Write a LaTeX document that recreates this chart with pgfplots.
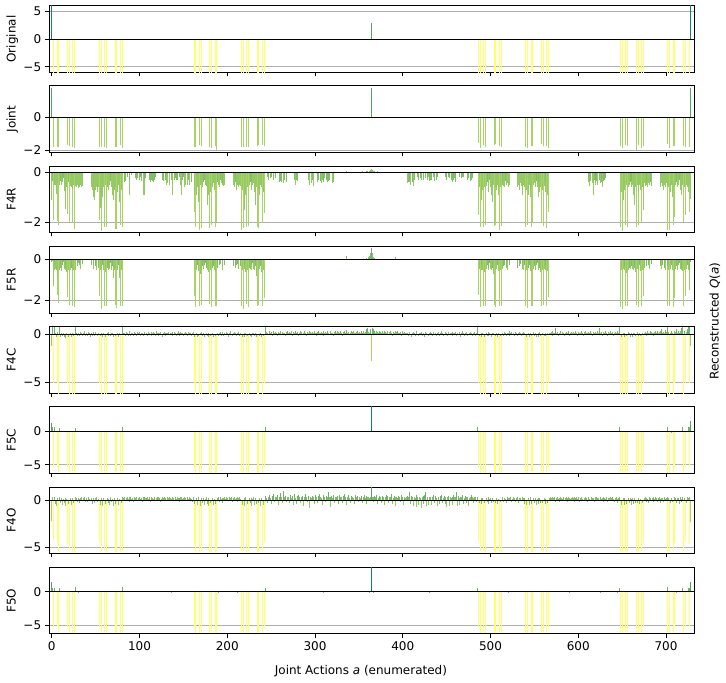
\documentclass[border=0pt]{standalone}
\usepackage{fontspec}
\setmainfont{DejaVu Sans}
\usepackage{pgfplots}
\usepackage{pgfplotstable}
\pgfplotsset{compat=1.18}
\definecolor{gridgray}{RGB}{176,176,176}
\definecolor{cY}{rgb}{1,1,0.4}
\definecolor{cA}{rgb}{0.66,0.83,0.4}
\definecolor{cB}{rgb}{0.58,0.79,0.4}
\definecolor{cC}{rgb}{0.5,0.75,0.4}
\definecolor{cD}{rgb}{0.42,0.71,0.4}
\definecolor{cE}{rgb}{0.3,0.65,0.4}
\definecolor{cT}{rgb}{0.05,0.52,0.4}
\pgfplotsset{
  panel/.style={
    scale only axis, width=537.75pt, height=55.5pt,
    xmin=-3.1, xmax=732.2,
    xtick={0,100,...,700},
    tick align=outside, tick pos=left,
    major tick length=3pt,
    tick style={black, line width=0.7pt},
    axis line style={black, line width=0.8pt},
    ymajorgrids, major grid style={gridgray, line width=0.7pt},
    /pgf/number format/assume math mode=true,
    every axis y label/.style={at={(axis description cs:-0.0566,0.5)}, rotate=90, anchor=center, text height=0.76em, text depth=0.24em},
  },
  qbar/.style={no markers, ycomb, line width=0.6pt},
}
\newcommand{\densebin}[3]{%
  \pgfplotsinvokeforeach{0,...,26}{%
    \addplot[qbar, color=#2, restrict y to domain=#3] table[x expr=\coordindex*27+##1, y index=##1] {#1};
  }}
\newcommand{\sparsebin}[3]{%
  \addplot[qbar, color=#2, restrict y to domain=#3] table[x=x, y=#1] {\tabSP};}
\newcommand{\sparsebars}[1]{%
  \sparsebin{#1}{cY}{-7:-4.05}
  \sparsebin{#1}{cA}{-4.05:-1.55}
  \sparsebin{#1}{cB}{-1.55:-0.42}
  \sparsebin{#1}{cC}{-0.42:0.42}
  \sparsebin{#1}{cD}{0.42:1.22}
  \sparsebin{#1}{cE}{1.22:3.95}
  \sparsebin{#1}{cT}{3.95:7}}
\newcommand{\zeroline}{\addplot[black, line width=0.8pt, no markers] coordinates {(-10,0) (740,0)};}

\pgfplotstableread{
x orig joint fc fo
0 6.5 1.73 1.25 1.5
1 0 0 0.6 0.6
2 -6.5 -1.81 -5.3 -5.3
3 0 0 0.6 0.6
6 -6.5 -1.81 -5.3 -5.3
8 -6.5 -1.81 -6.2 -6.2
9 0 0 0.45 0.6
18 -6.5 -1.69 -5.3 -5.3
20 -6.5 -1.75 -6.2 -6.2
24 -6.5 -1.81 -6.2 -6.2
26 -6.5 -1.88 -6.1 -6.2
27 0 0 0.5 0.75
30 0 0 0 -0.06
54 -6.5 -1.81 -5.3 -5.3
56 -6.5 -1.81 -6.2 -6.2
60 -6.5 -1.81 -6.2 -6.1
62 -6.5 -1.88 -6.2 -6.2
72 -6.5 -1.81 -6.2 -6.2
74 -6.5 -1.81 -6.1 -6.2
78 -6.5 -1.69 -6.2 -6.2
80 -6.5 -1.88 -6.2 -6.1
81 0 0 0.6 0.75
92 0 0 0 0.06
134 0 0 -0.15 0
136 0 0 0 -0.06
162 -6.5 -1.81 -5.3 -5.3
164 -6.5 -1.81 -6.2 -6.2
166 0 0 0 0.06
168 -6.5 -1.69 -6.2 -6.2
170 -6.5 -1.75 -6.1 -6.2
180 -6.5 -1.81 -6.2 -6.2
182 -6.5 -1.88 -6.2 -6.1
186 -6.5 -1.75 -6.2 -6.2
188 -6.5 -1.98 -6.2 -6.2
190 0 0 0 -0.06
212 0 0 0 -0.05
216 -6.5 -1.81 -6.2 -6.2
218 -6.5 -1.81 -6.2 -6.2
222 -6.5 -1.81 -6.1 -6.2
224 -6.5 -1.81 -6.2 -6.2
234 -6.5 -1.75 -6.2 -6.2
236 -6.5 -1.69 -6.2 -6.1
240 -6.5 -1.69 -6.2 -6.2
242 -6.5 -1.75 -5.3 -5.3
243 0 0 0.6 0.6
262 0 0 0 0.05
310 0 0 0 -0.06
330 0 0 0 0.05
362 0 0 0 -0.1
363 0 0 0 0.1
364 3 1.73 6 6
365 0 0 0 0.1
366 0 0 0 -0.1
395 0 0 0 0.05
403 0 0 -0.1 0.05
430 0 0 0 -0.06
470 0 0 0 0.05
481 0 0 -0.12 0
485 0 0 0.65 0.6
486 -6.5 -1.59 -5.3 -5.3
488 -6.5 -1.88 -6.2 -6.2
492 -6.5 -1.69 -6.2 -6.2
494 -6.5 -1.81 -6.2 -6.2
504 -6.5 -1.69 -6.1 -6.2
506 -6.5 -1.65 -6.2 -6.2
510 -6.5 -1.75 -6.2 -6.1
512 -6.5 -1.81 -6.2 -6.2
520 0 0 0 -0.05
540 -6.5 -1.81 -6.2 -6.2
542 -6.5 -1.88 -6.2 -6.2
546 -6.5 -1.75 -6.2 -6.2
548 -6.5 -1.75 -6.1 -6.2
558 -6.5 -1.65 -6.2 -6.2
560 -6.5 -1.75 -6.2 -6.1
564 -6.5 -1.75 -6.2 -6.2
566 -6.5 -1.88 -5.3 -5.3
590 0 0 0 -0.06
608 0 0 0 0.05
625 0 0 0 -0.06
645 0 0 -0.15 -0.08
647 0 0 0.65 0.6
648 -6.5 -1.75 -6.2 -6.2
650 -6.5 -1.88 -6.2 -6.2
654 -6.5 -1.69 -6.2 -6.1
656 -6.5 -1.75 -6.2 -6.2
666 -6.5 -1.98 -6.2 -6.2
668 -6.5 -1.69 -6.1 -6.2
672 -6.5 -1.88 -6.2 -6.2
674 -6.5 -1.75 -5.3 -5.3
690 0 0 0 0.06
701 0 0 0.65 0.75
702 -6.5 -1.65 -6.2 -6.2
704 -6.5 -1.88 -6.2 -6.2
706 0 0 -0.2 0
707 0 0 -0.1 0
708 -6.5 -1.75 -6.2 -6.2
710 -6.5 -1.75 -5.3 -5.3
712 0 0 0 -0.06
716 0 0 0 0.06
719 0 0 0.65 0.6
720 -6.5 -1.75 -6.2 -6.2
722 -6.5 -1.81 -5.3 -5.3
725 0 0 0.6 0.6
726 -6.5 -1.81 -5.3 -5.3
727 0 0 0.6 0.6
728 6.5 1.73 1.55 1.5
}\tabSP

\pgfplotstableread[header=false]{
-1.1 -0.36 -1.9 -0.5 -0.5 -0.87 -1.95 -0.45 -2.1 -0.5 -0.35 -0.5 -0.4 -0.25 -0.75 -1.1 -1.47 -0.6 -1.67 -0.4 -2.0 -0.55 -0.6 -0.7 -2.04 -0.5 -2.27
-0.55 -0.6 -0.5 -0.65 -0.55 -0.6 -0.5 -0.6 -0.55 0 0 0 0 0 0 0 0 0 -0.6 -0.7 -1.0 -0.6 -1.1 -0.7 -0.6 -0.8 -0.6
-1.9 -1.45 -2.36 -1.27 -1.0 -0.6 -2.2 -0.5 -2.2 -0.6 -0.45 -0.7 -0.5 -0.35 -0.6 -0.9 -1.1 -0.7 -2.27 -0.6 -2.27 -0.8 -0.5 -1.2 -2.13 -0.7 -2.2
0 0 -0.4 -0.35 0 -0.2 0 -0.9 -0.3 0 -0.1 0 0 0 -0.25 -0.2 -0.3 -0.25 0 -0.3 -0.2 -0.35 0 -0.9 -0.3 -0.9 -0.25
0 0 0 -0.3 -0.4 -0.3 0 -0.35 -0.4 -0.3 -0.2 0 0 0 0 0 0 0 -0.3 -0.35 0 -0.3 0 -0.5 -0.45 0 -0.5
0 -0.3 -0.8 -0.9 0 -0.3 -0.25 -0.3 -0.3 0 0 -0.2 -0.5 -0.9 -0.3 -0.2 -0.6 -0.5 0 -0.45 -0.5 -0.3 -0.5 0 -0.4 0 0
-1.6 -0.8 -2.2 -0.9 -0.6 -1.2 -2.3 -0.5 -2.25 -0.45 -0.6 -0.4 -0.3 -0.5 -0.55 -1.3 -0.7 -0.9 -2.25 -0.8 -2.1 -0.6 -0.45 -0.7 -2.2 -0.5 -2.0
-0.4 -0.5 -0.6 -0.3 -0.45 -0.5 -0.4 -0.55 -0.5 0 0 0 0 0 0 0 0 0 -0.5 -0.6 -0.4 -0.7 -0.5 -0.45 -0.6 -0.5 -0.55
-2.3 -0.7 -2.25 -1.5 -0.6 -0.9 -2.2 -0.6 -2.15 -0.5 -0.4 -0.35 -0.7 -0.5 -0.45 -0.8 -1.3 -0.6 -2.2 -0.7 -2.25 -0.9 -0.5 -0.6 -2.05 -0.8 -1.65
0 0 0 -0.2 -0.3 0 -0.25 -0.2 0 -0.3 -0.2 0 -0.25 0 0 0 -0.4 -0.35 0 -0.4 0 -0.45 -0.3 0 -0.4 0 0
0 0 0 0 0 0 -0.3 0 -0.5 -0.3 -0.35 0 0 0 0 0 0 0 0 0 0 0 0 -0.3 -0.5 0 -0.45
-0.3 -0.55 0 0 0 0 -0.4 -0.3 0 -0.35 -0.45 -0.3 0 -0.4 -0.25 0 -0.3 -0.4 -0.35 -0.3 0 0 0 -0.45 -0.4 0 0
0 0 0 0 0 0 0 0 0 0 0 0 0.05 0 0 0 0 0 0 0 0 0 0 0 0 0 0
0 0 0 0.03 0 0 0 0.05 0 0.05 0 0.05 0.08 0.13 0.08 0.05 0 0.05 0 0 0.03 0 0 0 0 0 0
0 0 0 0 0 0 0 0 0 0 0 0 0 0 0 0 0 0 0 0 0 0 0 0 0 0 0
-0.45 -0.4 0 -0.4 -0.5 0 -0.4 -0.55 -0.3 0 0 0 -0.2 -0.3 0 -0.25 -0.3 0 -0.2 -0.3 0 -0.25 0 -0.3 -0.2 -0.35 -0.3
-0.25 -0.3 0 -0.2 -0.35 0 -0.3 -0.2 0 0 0 0 0 0 0 0 0 -0.2 -0.3 0 -0.2 -0.25 0 -0.3 -0.25 -0.4 -0.3
-0.25 -0.4 0 0 0 -0.2 -0.15 0 -0.25 -0.2 -0.2 0 0 0 0 -0.3 -0.25 0 -0.35 -0.3 -0.25 0 0 0 0 0 0
-1.7 -0.6 -2.2 -1.1 -0.5 -0.7 -2.2 -0.6 -2.1 -0.55 -0.4 -0.8 -0.5 -0.3 -0.6 -0.9 -1.2 -0.5 -2.15 -0.6 -2.1 -0.7 -0.5 -0.9 -2.3 -0.6 -2.15
-0.5 -0.4 -0.55 -0.6 -0.35 -0.5 -0.45 -0.6 -0.5 0 0 0 0 0 0 0 0 0 -0.6 -0.5 -0.7 -0.45 -0.55 -0.9 -0.5 -0.6 -0.5
-2.2 -0.7 -2.1 -0.9 -0.5 -1.0 -2.2 -0.6 -2.0 -0.5 -0.45 -0.6 -0.35 -0.6 -0.4 -1.0 -0.8 -0.6 -2.05 -0.7 -2.15 -0.55 -0.4 -0.8 -2.25 -0.9 -1.6
0 0 0 0 0 0 0 0 0 0 0 0 0 0 0 0 0 0 0 0 0 0 0 0 0 0 0
0 0 0 0 0 0 0 0 0 0 0 0 0 0 0 0 0 -0.4 -0.3 -0.55 -0.35 0 -0.45 -0.9 -0.3 -0.5 -0.4
-0.35 -0.5 0 -0.3 -0.45 -0.4 -0.6 0 -0.35 -0.3 -0.25 0 0 0 0 0 0 0 0 0 0 0 0 0 0 0 0
-2.2 -0.8 -2.35 -1.1 -0.6 -0.7 -2.1 -0.5 -2.2 -0.6 -0.5 -0.4 -0.6 -0.35 -0.5 -0.9 -1.3 -0.6 -2.2 -0.5 -2.1 -0.8 -0.5 -0.7 -2.0 -0.6 -1.5
-0.45 -0.55 -0.4 -0.5 -0.6 -0.45 -0.5 -0.4 -0.55 0 0 0 0 0 0 0 0 0 -0.5 -0.6 -0.45 -0.55 -0.7 -0.5 -0.6 -0.45 -0.5
-2.3 -0.6 -2.3 -0.8 -0.5 -1.0 -2.1 -0.6 -1.8 -0.5 -0.4 -0.6 -0.5 -0.3 -0.7 -0.9 -0.6 -0.5 -2.0 -0.6 -1.7 -0.5 -0.6 -0.8 -1.6 -0.5 -1.07
}\tabFR

\pgfplotstableread[header=false]{
-0.15 -0.1 -1.33 -0.5 -0.45 -0.5 -1.74 -0.9 -2.15 -0.5 -0.4 -0.55 -0.3 -0.15 -0.45 -0.5 -0.4 -0.6 -1.85 -0.5 -2.23 -0.5 -0.4 -0.55 -2.3 -0.5 -2.36
-0.5 0 -0.35 -0.2 0 -0.3 -0.45 0 -0.25 0 0 0 0 0 0 0 0 0 -0.3 0 -0.45 -0.2 0 -0.35 -0.5 0 -0.4
-1.82 -0.5 -2.44 -0.45 -0.3 -0.5 -2.28 -0.6 -2.28 -0.4 -0.5 -0.3 -0.45 -0.2 -0.5 -0.35 -0.9 -0.5 -2.26 -0.45 -2.4 -0.5 -0.3 -0.9 -2.28 -0.5 -2.3
0 0 0 0 0 0 0 0 0 0 0 0 0 0 0 0 0 0 0 0 0 0 0 0 0 0 0
0 0 0 0 0 0 0 0 0 0 0 0 0 0 0 0 0 0 0 0 0 0 0 0 0 0 0
0 0 0 0 0 0 0 0 0 0 0 0 0 0 0 0 0 0 0 0 0 0 0 0 0 0 0
-1.8 -0.45 -2.35 -0.5 -0.3 -0.55 -2.3 -0.7 -2.25 -0.5 -0.35 -0.45 -0.3 -0.2 -0.4 -0.5 -0.45 -0.6 -2.2 -0.5 -2.35 -0.4 -0.35 -0.5 -2.3 -0.6 -2.3
-0.4 0 -0.3 -0.25 0 -0.35 -0.5 0 -0.3 0 0 0 0 0 0 0 0 0 -0.35 0 -0.4 -0.3 0 -0.25 -0.45 0 -0.35
-2.3 -0.5 -2.45 -0.45 -0.3 -0.6 -2.2 -0.5 -2.35 -0.4 -0.45 -0.3 -0.5 -0.2 -0.45 -0.5 -0.35 -0.8 -2.3 -0.5 -2.25 -0.45 -0.35 -0.6 -2.3 -0.5 -1.9
0 0 0 0 0 0 0 0 0 0 0 0 0 0 0 0 0 0 0 0 0 0 0 0 0 0 0
0 0 0 0 0 0 0 0 0 0 0 0 0 0 0 0 0 0 0 0 0 0 0 0 0 0 0
0 0 0 0 0 0 0 0 0 0 0 0 0 0 0 0 0 0 0 0 0 0 0 0 0 0 0
0 0 0 0 0 0 0 0 0 0 0 0 0.15 0 0 0 0 0 0 0 0 0 0 0 0 0 0
0 0 0 0 0 0 0 0 0.05 0 0.1 0.15 0.3 0.56 0.3 0.1 0 0.05 0 0 0 0 0 0 0 0 0
0 0 0 0 0 0 0 0 0 0 0 0 0 0.1 0 0 0 0 0 0 0 0 0 0 0 0 0
0 0 0 0 0 0 0 0 0 0 0 0 0 0 0 0 0 0 0 0 0 0 0 0 0 0 0
0 0 0 0 0 0 0 0 0 0 0 0 0 0 0 0 0 0 0 0 0 0 0 0 0 0 0
0 0 0 0 0 0 0 0 0 0 0 0 0 0 0 0 0 0 0 0 0 0 0 0 0 0 0
-1.75 -0.45 -2.35 -0.5 -0.35 -0.5 -2.3 -0.6 -2.3 -0.45 -0.3 -0.5 -0.4 -0.2 -0.45 -0.5 -0.4 -0.7 -2.25 -0.5 -2.35 -0.45 -0.3 -0.55 -2.3 -0.5 -2.3
-0.45 0 -0.35 -0.3 0 -0.4 -0.5 0 -0.3 0 0 0 0 0 0 0 0 0 -0.4 0 -0.35 -0.25 0 -0.45 -0.5 0 -0.3
-2.3 -0.5 -2.4 -0.4 -0.3 -0.55 -2.3 -0.6 -2.3 -0.45 -0.35 -0.5 -0.3 -0.2 -0.5 -0.45 -0.4 -0.6 -2.3 -0.5 -2.25 -0.45 -0.3 -0.5 -2.3 -0.55 -1.85
0 0 0 0 0 0 0 0 0 0 0 0 0 0 0 0 0 0 0 0 0 0 0 0 0 0 0
0 0 0 0 0 0 0 0 0 0 0 0 0 0 0 0 0 0 0 0 0 0 0 0 0 0 0
0 0 0 0 0 0 0 0 0 0 0 0 0 0 0 0 0 0 0 0 0 0 0 0 0 0 0
-2.35 -0.5 -2.45 -0.45 -0.35 -0.5 -2.3 -0.65 -2.3 -0.5 -0.4 -0.45 -0.35 -0.2 -0.45 -0.5 -0.4 -0.6 -2.25 -0.45 -2.35 -0.5 -0.3 -0.55 -2.3 -0.5 -1.8
-0.4 0 -0.3 -0.35 0 -0.3 -0.45 0 -0.25 0 0 0 0 0 0 0 0 0 -0.35 0 -0.45 -0.3 0 -0.4 -0.5 0 -0.35
-2.3 -0.5 -2.3 -0.45 -0.3 -0.5 -2.35 -0.6 -1.9 -0.45 -0.35 -0.5 -0.3 -0.2 -0.45 -0.5 -0.4 -0.55 -2.3 -0.5 -1.8 -0.45 -0.3 -0.5 -1.5 -0.4 -0.15
}\tabFiveR

\pgfplotstableread[header=false]{
-1.2 0.8 -5 0.8 0.14 -0.21 -5 0.28 -6.3 0.8 -0.28 0.21 -0.14 0.14 -0.28 0.07 -0.35 0.14 -5 -0.21 -6.3 0.14 -0.28 0.21 -6.3 -0.14 -6.3
0.8 0.14 -0.14 0.21 0.07 -0.17 0.28 0.14 -0.11 0.17 0.35 -0.14 0.07 0.21 -0.14 0.28 0.14 -0.21 0.14 -0.07 0.25 0.14 -0.14 0.28 0.07 -0.17 0.21
-5 -0.14 -6.3 0.14 -0.28 0.17 -6.3 -0.21 -6.3 0.14 -0.14 0.28 0.07 -0.14 0.21 0.14 -0.28 0.11 -6.3 -0.14 -6.3 0.17 -0.21 0.14 -6.3 0.07 -6.3
0.8 0.14 0.21 -0.14 0.28 0.17 -0.07 0.14 0.35 -0.14 0.21 0.14 -0.11 0.28 0.14 0.07 -0.17 0.25 0.14 0.28 -0.07 0.21 0.14 -0.14 0.31 0.14 0.07
0.14 -0.14 0.28 0.21 0.07 0.28 -0.17 0.14 0.25 0.14 -0.07 0.35 0.14 0.21 -0.14 0.17 0.28 0.07 -0.21 0.14 0.28 0.14 -0.11 0.21 0.14 0.28 0.07
0.21 0.14 -0.14 0.28 0.07 0.25 0.14 -0.14 0.21 0.35 0.14 -0.07 0.28 0.14 0.17 -0.14 0.21 0.28 0.14 0.07 -0.17 0.28 0.21 0.14 -0.14 0.17 0.28
-5 -0.28 -6.3 0.14 -0.21 -0.14 -6.3 0.17 -6.3 0.28 -0.14 0.14 -0.28 0.07 0.21 -0.14 0.14 -0.21 -6.3 -0.14 -6.3 0.14 -0.28 0.11 -6.3 -0.17 -6.3
0.14 -0.14 0.21 0.28 -0.07 0.14 0.25 -0.14 0.17 0.07 0.28 0.14 -0.21 0.14 0.21 0.35 0.07 -0.14 0.17 0.28 0.14 -0.11 0.21 0.14 0.28 -0.14 0.14
-6.3 -0.21 -6.3 0.14 -0.28 0.17 -6.3 -0.14 -6.3 0.21 -0.14 0.11 -0.28 0.14 0.21 -0.17 0.14 -0.28 -6.3 0.07 -6.3 -0.14 0.17 -0.21 -6.3 -0.14 -5
0.8 0.14 0.28 0.21 0.07 0.35 0.14 0.28 -0.07 0.21 0.42 0.14 0.28 0.17 -0.11 0.28 0.21 0.14 0.35 0.07 0.28 0.14 0.21 -0.07 0.28 0.42 0.14
0.21 0.28 0.14 0.35 -0.07 0.28 0.14 0.21 0.42 0.14 0.28 -0.14 0.21 0.35 0.14 0.28 0.07 0.21 0.42 0.14 -0.07 0.28 0.21 0.14 0.35 0.28 0.14
0.28 0.14 0.35 0.21 0.14 -0.07 0.28 0.42 0.14 0.21 0.28 0.14 0.35 -0.14 0.21 0.28 0.14 0.42 0.21 0.07 0.28 0.35 0.14 0.21 -0.07 0.28 0.42
0.14 0.35 0.21 0.28 0.14 0.42 0.21 -0.07 0.28 0.14 0.35 0.21 0.49 0.14 0.28 0.07 0.21 0.42 0.28 0.14 0.35 0.21 0.14 0.28 0.42 0.21 0.14
0.28 0.14 0.42 0.21 0.35 0.14 0.28 0.56 0.21 0.7 0.28 0.14 0.63 -2.7 0.7 0.28 0.56 0.42 0.14 0.35 0.28 0.14 0.42 0.21 0.28 0.14 0.35
0.21 0.42 0.28 0.14 0.35 0.21 0.07 0.28 0.42 0.14 -0.14 0.28 0.21 0.35 0.14 0.28 0.42 0.21 0.14 0.28 -0.07 0.21 0.35 0.14 0.28 0.21 0.14
0.14 -0.14 0.21 0.28 0.07 -0.21 0.14 0.28 0.21 -0.14 0.14 0.35 0.07 -0.14 0.21 0.14 0.28 -0.07 0.14 0.21 -0.21 0.28 0.14 0.07 -0.14 0.21 0.28
0.21 0.14 -0.14 0.28 0.07 0.21 -0.17 0.14 0.28 0.14 -0.07 0.21 0.35 0.14 -0.14 0.07 0.28 0.14 0.21 -0.14 0.28 0.07 0.14 0.21 -0.11 0.28 0.14
0.14 0.28 -0.14 0.21 0.07 0.14 0.28 -0.21 0.14 0.35 0.14 -0.07 0.21 0.14 0.28 -0.14 0.07 0.21 0.28 0.14 -0.14 0.21 0.14 0.28 -0.07 0.14 0.8
-5 -0.14 -6.3 0.21 -0.28 0.14 -6.3 -0.21 -6.3 0.14 -0.07 0.28 -0.14 0.21 0.07 -0.28 0.14 0.17 -6.3 -0.14 -6.3 0.21 -0.21 0.14 -6.3 -0.14 -6.3
0.14 0.21 -0.14 0.28 0.14 -0.07 0.21 0.14 0.35 -0.14 0.14 0.28 0.07 0.21 -0.14 0.28 0.14 0.21 -0.07 0.14 0.28 0.21 -0.14 0.14 0.28 0.07 0.21
-6.3 -0.28 -6.3 0.14 -0.21 0.17 -6.3 -0.14 -6.3 0.28 -0.14 0.21 -0.28 0.07 0.14 -0.21 0.28 -0.14 -6.3 0.14 -6.3 -0.17 0.21 -0.14 -6.3 0.14 -5
0.21 0.14 0.28 -0.07 0.35 0.14 0.21 0.7 0.14 0.28 -0.14 0.21 0.14 0.35 0.07 0.28 0.21 -0.14 0.14 0.28 0.21 0.14 0.42 -0.07 0.21 0.28 0.14
0.28 0.14 0.21 0.35 0.14 -0.07 0.28 0.21 0.14 0.42 0.21 0.14 -0.14 0.28 0.35 0.14 0.21 0.28 0.07 0.14 0.35 0.21 -0.07 0.28 0.14 0.21 0.28
0.14 0.35 0.21 0.7 0.14 0.28 -0.07 0.21 0.28 0.14 0.42 0.21 -0.14 0.28 0.14 0.35 0.21 0.14 0.28 -0.07 0.21 0.28 0.14 0.42 0.21 0.14 0.8
-6.3 -0.21 -6.3 0.14 -0.28 0.21 -6.3 -0.14 -6.3 0.28 0.14 -0.21 0.14 0.07 -0.28 0.21 0.14 -0.14 -6.3 0.28 -6.3 -0.14 0.21 -0.17 -6.3 0.14 -5
0.21 0.28 0.14 -0.14 0.35 0.21 0.14 0.42 0.28 0.14 0.21 -0.07 0.28 0.35 0.14 0.42 0.21 0.28 0.14 0.35 0.56 0.21 0.28 0.14 0.49 0.28 0.8
-6.3 0.28 -6.3 0.21 0.42 0.14 -6.3 0.35 -5 0.28 0.56 0.21 0.42 0.14 0.35 0.7 0.28 0.8 -6.3 0.42 -5 0.28 0.56 0.8 -5 0.8 -1.2
}\tabFC

\pgfplotstableread[header=false]{
-2.2 0.3 -4.2 0.3 -0.4 -0.6 -4.5 0.2 -5.35 0.3 -0.3 0.2 -0.5 0.15 -0.3 0.2 -0.6 0.1 -4.6 -0.4 -5.3 0.2 -0.5 0.25 -5.5 -0.3 -5.56
0.3 0.2 -0.2 0.25 0.1 -0.3 0.2 0.35 -0.1 0.2 0.3 -0.15 0.1 0.25 -0.2 0.3 0.15 -0.1 0.2 -0.4 0.25 0.1 -0.3 0.2 0.3 -0.2 0.15
-4.4 -0.5 -5.4 0.2 -0.6 0.25 -5.4 -0.4 -5.5 0.2 -0.3 0.15 -0.5 0.3 -0.2 0.1 -0.6 0.2 -5.5 -0.4 -5.5 0.25 -0.5 0.1 -5.5 -0.3 -5.4
0.3 0.2 0.35 -0.1 0.25 0.3 0.1 -0.2 0.3 0.4 0.15 0.25 -0.15 0.3 0.2 0.1 0.35 -0.1 0.25 0.3 0.15 0.2 -0.2 0.3 0.4 0.1 0.25
0.2 0.35 0.1 0.3 -0.15 0.25 0.4 0.2 0.1 0.3 -0.1 0.2 0.35 0.15 0.3 0.25 -0.2 0.1 0.3 0.2 0.4 0.15 0.25 -0.1 0.3 0.2 0.35
0.25 0.1 0.3 0.4 0.2 -0.1 0.3 0.15 0.35 0.2 0.25 -0.15 0.3 0.4 0.1 0.2 0.35 0.25 -0.1 0.3 0.2 0.15 0.4 0.25 0.1 -0.2 0.3
-4.7 -0.4 -5.5 0.2 -0.5 0.3 -5.5 -0.6 -5.4 0.25 -0.3 0.2 -0.5 0.1 0.3 -0.4 0.2 -0.6 -5.5 -0.3 -5.6 0.2 -0.5 0.15 -5.5 -0.4 -5.4
0.2 0.3 -0.2 0.35 0.15 0.25 -0.3 0.2 0.3 0.1 0.4 0.2 -0.1 0.3 0.25 0.15 0.35 -0.2 0.2 0.3 0.1 0.25 -0.15 0.3 0.2 0.4 0.1
-5.4 -0.5 -5.4 0.2 -0.6 0.3 -5.5 -0.4 -5.4 0.2 -0.3 0.25 -0.6 0.1 0.3 -0.5 0.2 -0.4 -5.5 -0.3 -5.5 0.2 -0.6 0.25 -5.3 -0.5 -4.4
0.3 0.5 0.2 -0.3 0.4 0.6 0.2 -0.4 0.5 0.3 0.7 -0.2 0.4 0.3 0.6 -0.5 0.3 0.2 0.8 0.4 -0.3 0.95 0.3 0.5 -0.2 0.4 0.3
0.4 -0.3 0.6 0.2 0.5 -0.5 0.3 0.7 0.2 -0.4 0.5 0.6 0.3 -0.3 0.4 0.2 0.5 -0.6 0.3 0.7 0.4 -0.2 0.5 0.3 -0.8 0.4 0.2
0.5 0.3 -0.4 0.6 0.2 0.4 -0.3 0.5 0.7 0.3 0.2 -0.5 0.4 0.6 0.3 -0.2 0.5 0.3 0.9 0.4 -0.7 0.3 0.5 0.2 0.6 -0.3 0.4
0.3 0.5 0.2 -0.4 0.6 0.3 0.4 -0.3 0.5 0.2 0.7 0.3 -0.5 0.4 0.6 0.2 -0.3 0.5 0.3 0.4 0.2 -0.4 0.6 0.3 0.5 -0.2 0.4
0.4 0.2 0.5 -0.3 0.3 0.6 0.2 -0.4 0.5 0.3 0.4 0.2 0.3 1.5 0.4 0.3 -0.2 0.5 0.3 0.6 -0.4 0.2 0.5 0.3 0.4 -0.3 0.5
0.3 -0.5 0.4 0.6 0.2 0.5 -0.3 0.4 0.3 0.7 -0.4 0.2 0.5 0.3 -0.6 0.4 0.2 0.5 0.3 -0.2 0.6 0.4 0.3 -0.5 0.4 0.2 0.3
0.5 0.3 0.2 0.85 -0.4 0.5 0.3 -0.6 0.4 0.2 0.6 -0.7 0.3 -0.5 0.4 0.2 -0.8 0.3 0.5 -0.4 0.6 0.85 -0.6 0.3 -0.5 0.4 0.2
0.3 -0.5 0.4 0.6 -0.3 0.5 0.2 -0.6 0.4 0.3 -0.4 0.5 0.6 -0.3 0.2 0.5 -0.4 0.3 -0.7 0.4 0.5 -0.6 0.3 0.2 -0.5 0.4 0.6
0.4 0.3 0.85 -0.6 0.5 0.2 -0.5 0.4 0.3 0.6 -0.4 0.2 0.5 -0.3 0.4 0.3 -0.6 0.2 0.4 0.6 0.3 -0.3 0.2 0.4 0.3 -0.2 0.3
-4.4 -0.3 -5.4 0.2 -0.4 0.25 -5.5 -0.3 -5.5 0.2 -0.2 0.3 -0.4 0.15 0.2 -0.3 0.25 -0.2 -5.5 -0.3 -5.5 0.2 -0.4 0.1 -5.5 -0.2 -5.5
0.2 0.3 -0.2 0.25 0.1 -0.3 0.3 0.2 -0.1 0.25 0.3 -0.2 0.15 0.3 0.2 -0.15 0.25 0.1 0.3 -0.3 0.2 0.25 -0.1 0.3 0.2 -0.4 0.2
-5.4 -0.5 -5.6 0.2 -0.5 0.3 -5.5 -0.4 -5.5 0.2 -0.3 0.2 -0.5 0.1 0.25 -0.4 0.2 -0.3 -5.4 -0.3 -5.5 0.2 -0.4 0.15 -5.5 -0.3 -4.7
0.2 0.3 0.25 -0.1 0.3 0.2 0.35 -0.15 0.25 0.3 0.1 0.2 -0.2 0.3 0.25 0.15 0.3 -0.1 0.2 0.35 0.25 -0.15 0.3 0.2 0.1 0.25 0.3
0.25 0.3 -0.2 0.2 0.35 0.1 0.3 -0.15 0.25 0.2 0.3 0.1 -0.1 0.25 0.3 0.2 -0.2 0.3 0.25 0.15 -0.1 0.3 0.2 0.25 -0.15 0.3 0.2
0.3 0.2 0.25 -0.1 0.3 0.15 0.25 -0.2 0.3 0.2 0.1 0.3 -0.15 0.25 0.2 0.3 -0.1 0.2 0.3 0.15 -0.2 0.25 0.3 0.1 -0.3 0.2 0.3
-5.45 -0.5 -5.6 0.2 -0.5 0.25 -5.5 -0.4 -5.5 0.2 -0.3 0.2 -0.5 0.1 0.25 -0.4 0.2 -0.3 -5.6 -0.3 -5.5 0.2 -0.4 0.15 -5.4 -0.3 -4.5
0.2 0.3 -0.2 0.25 0.15 -0.3 0.3 0.2 -0.1 0.25 0.3 -0.2 0.1 0.3 0.25 -0.15 0.2 0.3 0.1 -0.3 0.25 0.2 -0.2 0.3 0.15 0.25 0.3
-5.5 0.2 -5.5 -0.3 0.25 -0.2 -5.2 0.3 -4.5 0.2 -0.3 0.25 0.2 -0.4 0.3 0.15 -0.2 0.3 -5.4 0.25 -4.4 -0.3 0.3 0.2 -4.6 0.4 -2.3
}\tabFO

\begin{document}
\begin{tikzpicture}
\useasboundingbox (0,0) rectangle (605pt,569.17pt);

\begin{axis}[panel, at={(40.83pt,564.42pt)}, anchor=north west,
  ymin=-6, ymax=6.05, ytick={-5,0,5}, yticklabels={−5,0,5}, xticklabels={}, ylabel={Original}]
\sparsebars{orig}
\zeroline
\end{axis}

\begin{axis}[panel, at={(40.83pt,497.56pt)}, anchor=north west,
  ymin=-2.14, ymax=1.88, ytick={-2,0}, yticklabels={−2,0}, xticklabels={}, ylabel={Joint}]
\sparsebars{joint}
\zeroline
\end{axis}

\begin{axis}[panel, at={(40.83pt,430.70pt)}, anchor=north west,
  ymin=-2.42, ymax=0.24, ytick={-2,0}, yticklabels={−2,0}, xticklabels={}, ylabel={F4R}]
\densebin{\tabFR}{cA}{-4.05:-1.55}
\densebin{\tabFR}{cB}{-1.55:-0.42}
\densebin{\tabFR}{cC}{-0.42:0.42}
\zeroline
\end{axis}

\begin{axis}[panel, at={(40.83pt,363.84pt)}, anchor=north west,
  ymin=-2.64, ymax=0.64, ytick={-2,0}, yticklabels={−2,0}, xticklabels={}, ylabel={F5R}]
\densebin{\tabFiveR}{cA}{-4.05:-1.55}
\densebin{\tabFiveR}{cB}{-1.55:-0.42}
\densebin{\tabFiveR}{cC}{-0.42:0.42}
\densebin{\tabFiveR}{cD}{0.42:1.22}
\zeroline
\end{axis}

\begin{axis}[panel, at={(40.83pt,296.98pt)}, anchor=north west,
  ymin=-6.1, ymax=0.83, ytick={-5,0}, yticklabels={−5,0}, xticklabels={}, ylabel={F4C}]
\densebin{\tabFC}{cY}{-7:-4.05}
\densebin{\tabFC}{cA}{-4.05:-1.55}
\densebin{\tabFC}{cB}{-1.55:-0.42}
\densebin{\tabFC}{cC}{-0.42:0.42}
\densebin{\tabFC}{cD}{0.42:1.22}
\zeroline
\end{axis}

\begin{axis}[panel, at={(40.83pt,230.12pt)}, anchor=north west,
  ymin=-6.3, ymax=3.7, ytick={-5,0}, yticklabels={−5,0}, xticklabels={}, ylabel={F5C}]
\sparsebars{fc}
\zeroline
\end{axis}

\begin{axis}[panel, at={(40.83pt,163.26pt)}, anchor=north west,
  ymin=-5.67, ymax=1.4, ytick={-5,0}, yticklabels={−5,0}, xticklabels={}, ylabel={F4O}]
\densebin{\tabFO}{cY}{-7:-4.05}
\densebin{\tabFO}{cA}{-4.05:-1.55}
\densebin{\tabFO}{cB}{-1.55:-0.42}
\densebin{\tabFO}{cC}{-0.42:0.42}
\densebin{\tabFO}{cD}{0.42:1.22}
\densebin{\tabFO}{cE}{1.22:3.95}
\zeroline
\end{axis}

\begin{axis}[panel, at={(40.83pt,96.40pt)}, anchor=north west,
  ymin=-6.35, ymax=3.66, ytick={-5,0}, yticklabels={−5,0}, ylabel={F5O}]
\sparsebars{fo}
\zeroline
\end{axis}

\node[rotate=90, anchor=center] at (595.8pt,301.7pt) {Reconstructed \textit{Q}(\textit{a})};
\node[anchor=base] at (300.8pt,6.67pt) {Joint Actions \textit{a} (enumerated)};
\end{tikzpicture}
\end{document}
